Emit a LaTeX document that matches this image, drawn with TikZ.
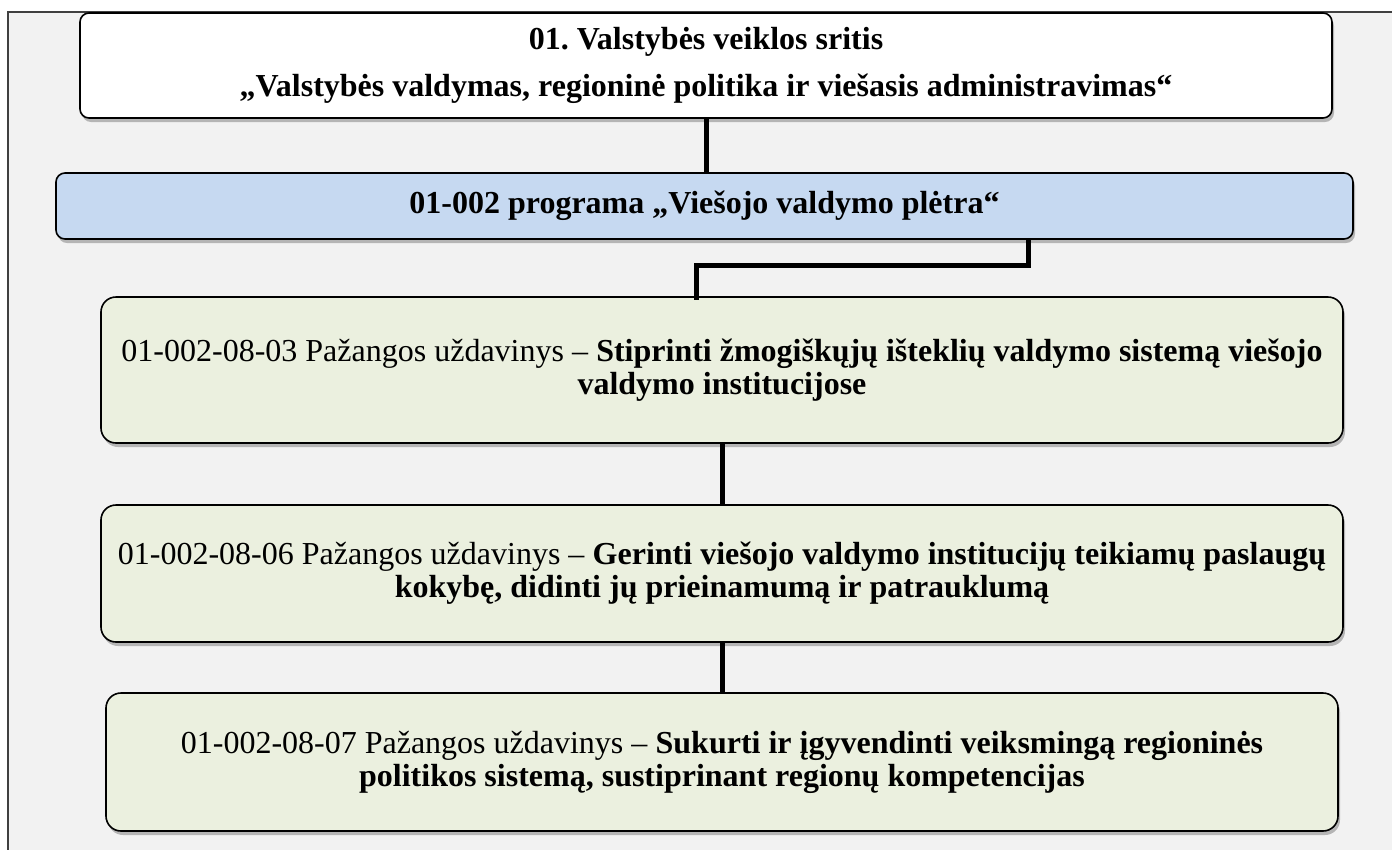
\documentclass[tikz,border=0pt]{standalone}
\usepackage{fontspec}
\setmainfont{Liberation Serif}
\usetikzlibrary{shadows}
\definecolor{bgc}{HTML}{F2F2F2}
\definecolor{bluec}{HTML}{C6D9F1}
\definecolor{greenc}{HTML}{EBF0DF}
\definecolor{framec}{HTML}{404040}
\frenchspacing
\tikzset{
  boxbase/.style={draw=black, line width=1.6pt, rounded corners=9pt, anchor=center, inner sep=0pt,
    drop shadow={shadow xshift=2pt, shadow yshift=-4pt, fill=black, opacity=0.25}},
  topbox/.style={boxbase, fill=white, align=center, font=\fontsize{32}{47}\selectfont\bfseries},
  progbox/.style={boxbase, fill=bluec, align=center, font=\fontsize{32}{36}\selectfont\bfseries},
  taskbox/.style={boxbase, rounded corners=15pt, fill=greenc, align=center, font=\fontsize{32}{33}\selectfont},
  link/.style={draw=black, line width=5pt}
}
\begin{document}
\begin{tikzpicture}[x=1pt,y=-1pt]
\useasboundingbox (0,0) rectangle (1392,849);
\draw[fill=bgc, draw=framec, line width=1.5pt] (8,12) rectangle (1410,870);
\node[topbox, minimum width=1252pt, minimum height=105pt] (b1) at (706,65.5)
  {01. Valstybės veiklos sritis\\„Valstybės valdymas, regioninė politika ir viešasis administravimas“};
\node[progbox, minimum width=1297pt, minimum height=66pt] (b2) at (704.5,206)
  {01-002 programa „Viešojo valdymo plėtra“};
\node[taskbox, minimum width=1242pt, minimum height=146pt] (b3) at (722,370)
  {01-002-08-03 Pažangos uždavinys – \textbf{Stiprinti žmogiškųjų išteklių valdymo sistemą viešojo}\\\textbf{valdymo institucijose}};
\node[taskbox, minimum width=1242pt, minimum height=137pt] (b4) at (722,573.5)
  {01-002-08-06 Pažangos uždavinys – \textbf{Gerinti viešojo valdymo institucijų teikiamų paslaugų}\\\textbf{kokybę, didinti jų prieinamumą ir patrauklumą}};
\node[taskbox, minimum width=1232pt, minimum height=138pt] (b5) at (722,762)
  {01-002-08-07 Pažangos uždavinys – \textbf{Sukurti ir įgyvendinti veiksmingą regioninės}\\\textbf{politikos sistemą, sustiprinant regionų kompetencijas}};
\coordinate (e1) at (1028,265);
\coordinate (e2) at (696,265);
\draw[link] (b1.south) -- (b1.south |- b2.north);
\draw[link] (b2.south -| e1) -- (e1) -- (e2) -- ([yshift=-4pt]b3.north -| e2);
\draw[link] (b3.south) -- (b4.north);
\draw[link] (b4.south) -- (b5.north);
\end{tikzpicture}
\end{document}
